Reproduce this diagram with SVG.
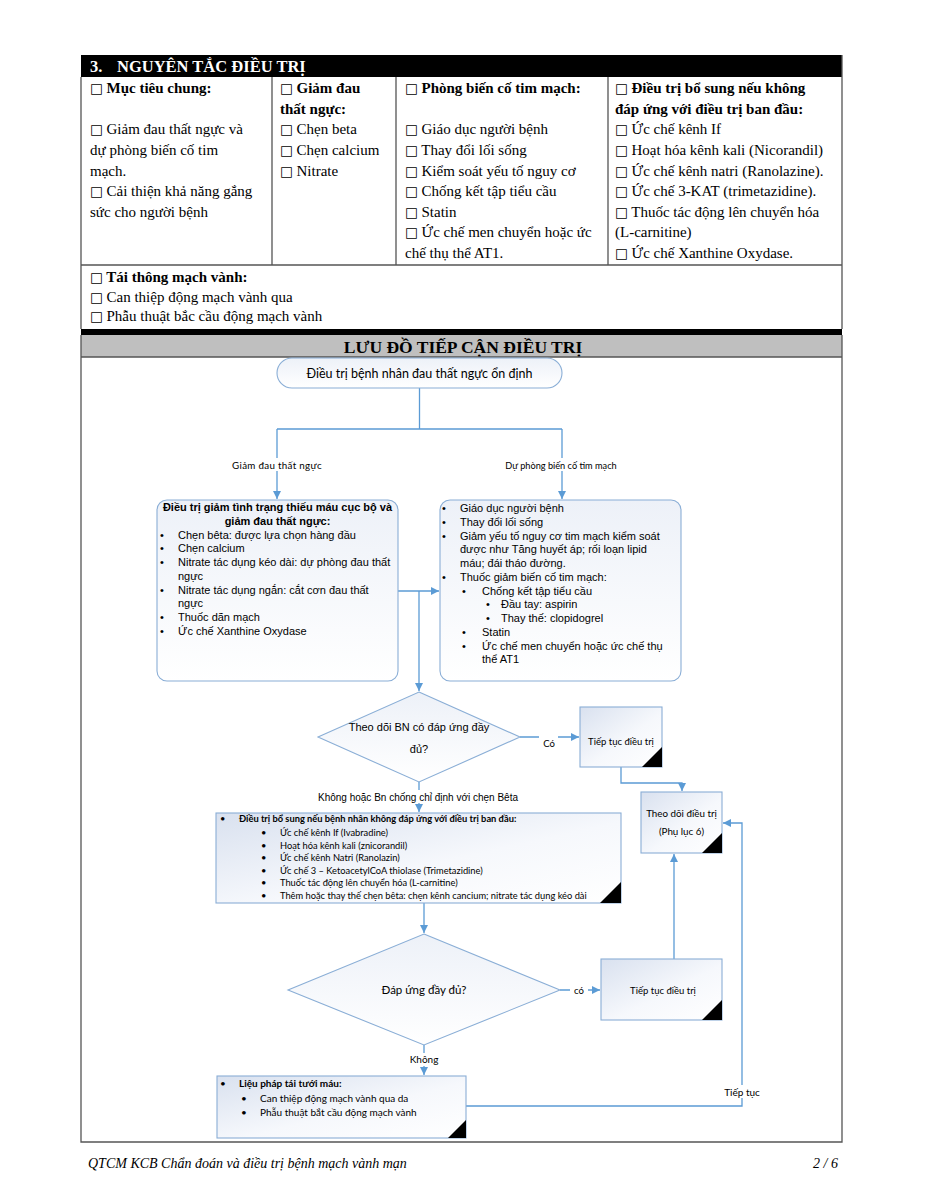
<svg xmlns="http://www.w3.org/2000/svg" width="927" height="1200" viewBox="0 0 927 1200">
<defs>
<linearGradient id="gBox" x1="0" y1="0" x2="1" y2="1"><stop offset="0" stop-color="#d9e1ef"/><stop offset="0.55" stop-color="#f6f8fc"/><stop offset="1" stop-color="#ffffff"/></linearGradient>
<linearGradient id="gRound" x1="0" y1="0" x2="0" y2="1"><stop offset="0" stop-color="#edf1f8"/><stop offset="1" stop-color="#ffffff"/></linearGradient>
<marker id="arr" viewBox="0 0 10 10" refX="10" refY="5" markerWidth="8" markerHeight="8" markerUnits="userSpaceOnUse" orient="auto"><path d="M0,0 L10,5 L0,10 z" fill="#5b9bd5"/></marker>
<style>
.tb{font-family:"Liberation Serif","Times New Roman",serif;font-size:15px;fill:#000}
.b{font-weight:bold}
.cb{font-family:"DejaVu Sans",sans-serif;font-size:13.5px;font-weight:normal}
.ar{font-family:"Liberation Sans",Arial,sans-serif;fill:#000}
.ca{font-family:Lato,"Open Sans",sans-serif;fill:#000}
.grid{stroke:#555;stroke-width:1.3;fill:none}
.conn{stroke:#5b9bd5;stroke-width:1.3;fill:none}
.box{fill:url(#gBox);stroke:#8aaed6;stroke-width:1.1}
.rbox{fill:url(#gRound);stroke:#8aaed6;stroke-width:1.1}
.corner{fill:#000}
.lbg{fill:#fff}
</style>
</defs>

<!-- Table section -->
<g id="table">
<rect x="81" y="55" width="761" height="22" fill="#000"/>
<text x="90" y="72" class="tb b" style="font-size:16.5px;fill:#fff">3.</text>
<text x="117" y="72" class="tb b" style="font-size:16.5px;fill:#fff">NGUYÊN TẮC ĐIỀU TRỊ</text>
<path class="grid" d="M81,77 V329 M842,55 V329 M81,265 H842 M272,77 V265 M396,77 V265 M608,77 V265"/>
<g class="tb">
<text x="90" y="93" class="b"><tspan class="cb">□</tspan> Mục tiêu chung:</text>
<text x="90" y="134"><tspan class="cb">□</tspan> Giảm đau thất ngực và</text>
<text x="90" y="155">dự phòng biến cố tim</text>
<text x="90" y="175.5">mạch.</text>
<text x="90" y="196"><tspan class="cb">□</tspan> Cải thiện khả năng gắng</text>
<text x="90" y="216.5">sức cho người bệnh</text>

<text x="280" y="93" class="b"><tspan class="cb">□</tspan> Giảm đau</text>
<text x="280" y="113.5" class="b">thất ngực:</text>
<text x="280" y="134"><tspan class="cb">□</tspan> Chẹn beta</text>
<text x="280" y="155"><tspan class="cb">□</tspan> Chẹn calcium</text>
<text x="280" y="175.5"><tspan class="cb">□</tspan> Nitrate</text>

<text x="405" y="93" class="b"><tspan class="cb">□</tspan> Phòng biến cố tim mạch:</text>
<text x="405" y="134"><tspan class="cb">□</tspan> Giáo dục người bệnh</text>
<text x="405" y="155"><tspan class="cb">□</tspan> Thay đổi lối sống</text>
<text x="405" y="175.5"><tspan class="cb">□</tspan> Kiểm soát yếu tố nguy cơ</text>
<text x="405" y="196"><tspan class="cb">□</tspan> Chống kết tập tiểu cầu</text>
<text x="405" y="216.5"><tspan class="cb">□</tspan> Statin</text>
<text x="405" y="237"><tspan class="cb">□</tspan> Ức chế men chuyển hoặc ức</text>
<text x="405" y="258">chế thụ thể AT1.</text>

<text x="615" y="93" class="b"><tspan class="cb">□</tspan> Điều trị bổ sung nếu không</text>
<text x="615" y="113.5" class="b">đáp ứng với điều trị ban đầu:</text>
<text x="615" y="134"><tspan class="cb">□</tspan> Ức chế kênh If</text>
<text x="615" y="155"><tspan class="cb">□</tspan> Hoạt hóa kênh kali (Nicorandil)</text>
<text x="615" y="175.5"><tspan class="cb">□</tspan> Ức chế kênh natri (Ranolazine).</text>
<text x="615" y="196"><tspan class="cb">□</tspan> Ức chế 3-KAT (trimetazidine).</text>
<text x="615" y="216.5"><tspan class="cb">□</tspan> Thuốc tác động lên chuyển hóa</text>
<text x="615" y="237">(L-carnitine)</text>
<text x="615" y="258"><tspan class="cb">□</tspan> Ức chế Xanthine Oxydase.</text>

<text x="90" y="282" class="b"><tspan class="cb">□</tspan> Tái thông mạch vành:</text>
<text x="90" y="302"><tspan class="cb">□</tspan> Can thiệp động mạch vành qua</text>
<text x="90" y="321"><tspan class="cb">□</tspan> Phẫu thuật bắc cầu động mạch vành</text>
</g>
<rect x="81" y="329" width="761" height="6" fill="#000"/>
<rect x="81" y="335" width="761" height="22" fill="#bfbfbf"/>
<text x="463" y="353" text-anchor="middle" class="tb b" style="font-size:17.5px">LƯU ĐỒ TIẾP CẬN ĐIỀU TRỊ</text>
<path class="grid" d="M81,335 V1142 H842 V335 M81,357 H842"/>
</g>

<!-- Connectors -->
<g id="connectors">
<path class="conn" d="M419.5,388 V429 M277,429 H562"/>
<path class="conn" d="M277,429 V499" marker-end="url(#arr)"/>
<path class="conn" d="M562,429 V499" marker-end="url(#arr)"/>
<path class="conn" d="M398,591 H439" marker-end="url(#arr)"/>
<path class="conn" d="M419,591 V691" marker-end="url(#arr)"/>
<path class="conn" d="M520,737 H579" marker-end="url(#arr)"/>
<path class="conn" d="M419,782 V812" marker-end="url(#arr)"/>
<path class="conn" d="M621,767 V783 H682 V791" marker-end="url(#arr)"/>
<path class="conn" d="M424,903 V933" marker-end="url(#arr)"/>
<path class="conn" d="M560,990 H600" marker-end="url(#arr)"/>
<path class="conn" d="M674,959 V854" marker-end="url(#arr)"/>
<path class="conn" d="M424,1045 V1075" marker-end="url(#arr)"/>
<path class="conn" d="M466,1106 H742 V823 H723" marker-end="url(#arr)"/>
<!-- labels -->
<rect class="lbg" x="226" y="458" width="102" height="13"/>
<text x="277" y="468.5" text-anchor="middle" class="ca" style="font-size:9.8px;letter-spacing:0.3px">Giảm đau thất ngực</text>
<rect class="lbg" x="503" y="458" width="116" height="13"/>
<text x="561" y="468.5" text-anchor="middle" class="ca" style="font-size:9.2px">Dự phòng biến cố tim mạch</text>
<rect class="lbg" x="539" y="736" width="19" height="13"/>
<text x="549" y="747" text-anchor="middle" class="ca" style="font-size:9.5px">Có</text>
<rect class="lbg" x="316" y="790" width="204" height="13"/>
<text x="418" y="800.5" text-anchor="middle" class="ar" style="font-size:10px">Không hoặc Bn chống chỉ định với chẹn Bêta</text>
<rect class="lbg" x="570" y="984" width="18" height="12"/>
<text x="579" y="993.5" text-anchor="middle" class="ca" style="font-size:9.5px">có</text>
<rect class="lbg" x="407" y="1053" width="34" height="13"/>
<text x="424" y="1063" text-anchor="middle" class="ca" style="font-size:10px">Không</text>
<rect class="lbg" x="723" y="1085" width="40" height="13"/>
<text x="742" y="1095.5" text-anchor="middle" class="ca" style="font-size:10px">Tiếp tục</text>
</g>

<!-- Nodes -->
<g id="start">
<rect class="rbox" x="277" y="358" width="285" height="30" rx="15"/>
<text x="419.5" y="377.5" text-anchor="middle" class="ca" style="font-size:12.5px">Điều trị bệnh nhân đau thất ngực ổn định</text>
</g>

<g id="box-giam-dau">
<rect class="rbox" x="157" y="500" width="241" height="181" rx="10"/>
<g class="ar" style="font-size:11px">
<text x="277.5" y="511" text-anchor="middle" class="b">Điều trị giảm tình trạng thiếu máu cục bộ và</text>
<text x="277.5" y="524.8" text-anchor="middle" class="b">giảm đau thất ngực:</text>
<text x="160" y="538.5">•</text><text x="178" y="538.5">Chẹn bêta: được lựa chọn hàng đầu</text>
<text x="160" y="552.3">•</text><text x="178" y="552.3">Chẹn calcium</text>
<text x="160" y="566">•</text><text x="178" y="566">Nitrate tác dụng kéo dài: dự phòng đau thất</text>
<text x="178" y="579.8">ngực</text>
<text x="160" y="593.5">•</text><text x="178" y="593.5">Nitrate tác dụng ngắn: cắt cơn đau thất</text>
<text x="178" y="607.3">ngực</text>
<text x="160" y="621">•</text><text x="178" y="621">Thuốc dãn mạch</text>
<text x="160" y="634.8">•</text><text x="178" y="634.8">Ức chế Xanthine Oxydase</text>
</g>
</g>

<g id="box-du-phong">
<rect class="rbox" x="440" y="500" width="241" height="181" rx="10"/>
<g class="ar" style="font-size:11px">
<text x="442" y="512">•</text><text x="460" y="512">Giáo dục người bệnh</text>
<text x="442" y="525.8">•</text><text x="460" y="525.8">Thay đổi lối sống</text>
<text x="442" y="539.5">•</text><text x="460" y="539.5">Giảm yếu tố nguy cơ tim mạch kiểm soát</text>
<text x="460" y="553.3">được như Tăng huyết áp; rối loạn lipid</text>
<text x="460" y="567">máu; đái tháo đường.</text>
<text x="442" y="580.8">•</text><text x="460" y="580.8">Thuốc giảm biến cố tim mạch:</text>
<text x="462" y="594.5">•</text><text x="482" y="594.5">Chống kết tập tiểu cầu</text>
<text x="486" y="608.3">•</text><text x="501" y="608.3">Đầu tay: aspirin</text>
<text x="486" y="622">•</text><text x="501" y="622">Thay thế: clopidogrel</text>
<text x="462" y="635.8">•</text><text x="482" y="635.8">Statin</text>
<text x="462" y="649.5">•</text><text x="482" y="649.5">Ức chế men chuyển hoặc ức chế thụ</text>
<text x="482" y="663.3">thể AT1</text>
</g>
</g>

<g id="decision-1">
<polygon class="rbox" points="419,692 520,737 419,782 318,737"/>
<text x="419" y="731" text-anchor="middle" class="ar" style="font-size:11px">Theo dõi BN có đáp ứng đầy</text>
<text x="419" y="753" text-anchor="middle" class="ar" style="font-size:11px">đủ?</text>
</g>

<g id="tiep-tuc-1">
<rect class="box" x="580" y="707" width="82" height="60"/>
<polygon class="corner" points="662,747 662,767 642,767"/>
<text x="621" y="745" text-anchor="middle" class="ca" style="font-size:9.5px">Tiếp tục điều trị</text>
</g>

<g id="theo-doi">
<rect class="box" x="641" y="792" width="81" height="61"/>
<polygon class="corner" points="722,833 722,853 702,853"/>
<text x="681.5" y="817" text-anchor="middle" class="ca" style="font-size:9.8px">Theo dõi điều trị</text>
<text x="681.5" y="835" text-anchor="middle" class="ca" style="font-size:9.8px">(Phụ lục 6)</text>
</g>

<g id="box-bo-sung">
<rect class="box" x="216" y="813" width="405" height="90"/>
<polygon class="corner" points="621,882 621,903 600,903"/>
<g class="ca" style="font-size:9.3px">
<text x="220" y="822">•</text><text x="239" y="822" class="b">Điều trị bổ sung nếu bệnh nhân không đáp ứng với điều trị ban đầu:</text>
<text x="261" y="836">•</text><text x="280" y="836">Ức chế kênh If (Ivabradine)</text>
<text x="261" y="848.6">•</text><text x="280" y="848.6">Hoạt hóa kênh kali (znicorandil)</text>
<text x="261" y="861.2">•</text><text x="280" y="861.2">Ức chế kênh Natri (Ranolazin)</text>
<text x="261" y="873.8">•</text><text x="280" y="873.8">Ức chế 3 – KetoacetylCoA thiolase (Trimetazidine)</text>
<text x="261" y="886.4">•</text><text x="280" y="886.4">Thuốc tác động lên chuyển hóa (L-carnitine)</text>
<text x="261" y="899">•</text><text x="280" y="899">Thêm hoặc thay thế chẹn bêta: chẹn kênh cancium; nitrate tác dụng kéo dài</text>
</g>
</g>

<g id="decision-2">
<polygon class="rbox" points="424,934 560,990 424,1045 288,990"/>
<text x="424" y="994" text-anchor="middle" class="ca" style="font-size:11.5px">Đáp ứng đầy đủ?</text>
</g>

<g id="tiep-tuc-2">
<rect class="box" x="601" y="959" width="121" height="61"/>
<polygon class="corner" points="722,1000 722,1020 702,1020"/>
<text x="663" y="994" text-anchor="middle" class="ca" style="font-size:9.5px">Tiếp tục điều trị</text>
</g>

<g id="box-tai-tuoi-mau">
<rect class="box" x="217" y="1076" width="249" height="62"/>
<polygon class="corner" points="466,1120 466,1138 448,1138"/>
<g class="ca" style="font-size:10px">
<text x="220" y="1087">•</text><text x="239" y="1087" class="b">Liệu pháp tái tưới máu:</text>
<text x="241" y="1101.5">•</text><text x="260" y="1101.5">Can thiệp động mạch vành qua da</text>
<text x="241" y="1115.5">•</text><text x="260" y="1115.5">Phẫu thuật bắt cầu động mạch vành</text>
</g>
</g>

<g id="footer">
<text x="88" y="1168" class="tb" style="font-style:italic;font-size:14px">QTCM KCB Chẩn đoán và điều trị bệnh mạch vành mạn</text>
<text x="838" y="1168" text-anchor="end" class="tb" style="font-style:italic;font-size:14px">2 / 6</text>
</g>
</svg>
